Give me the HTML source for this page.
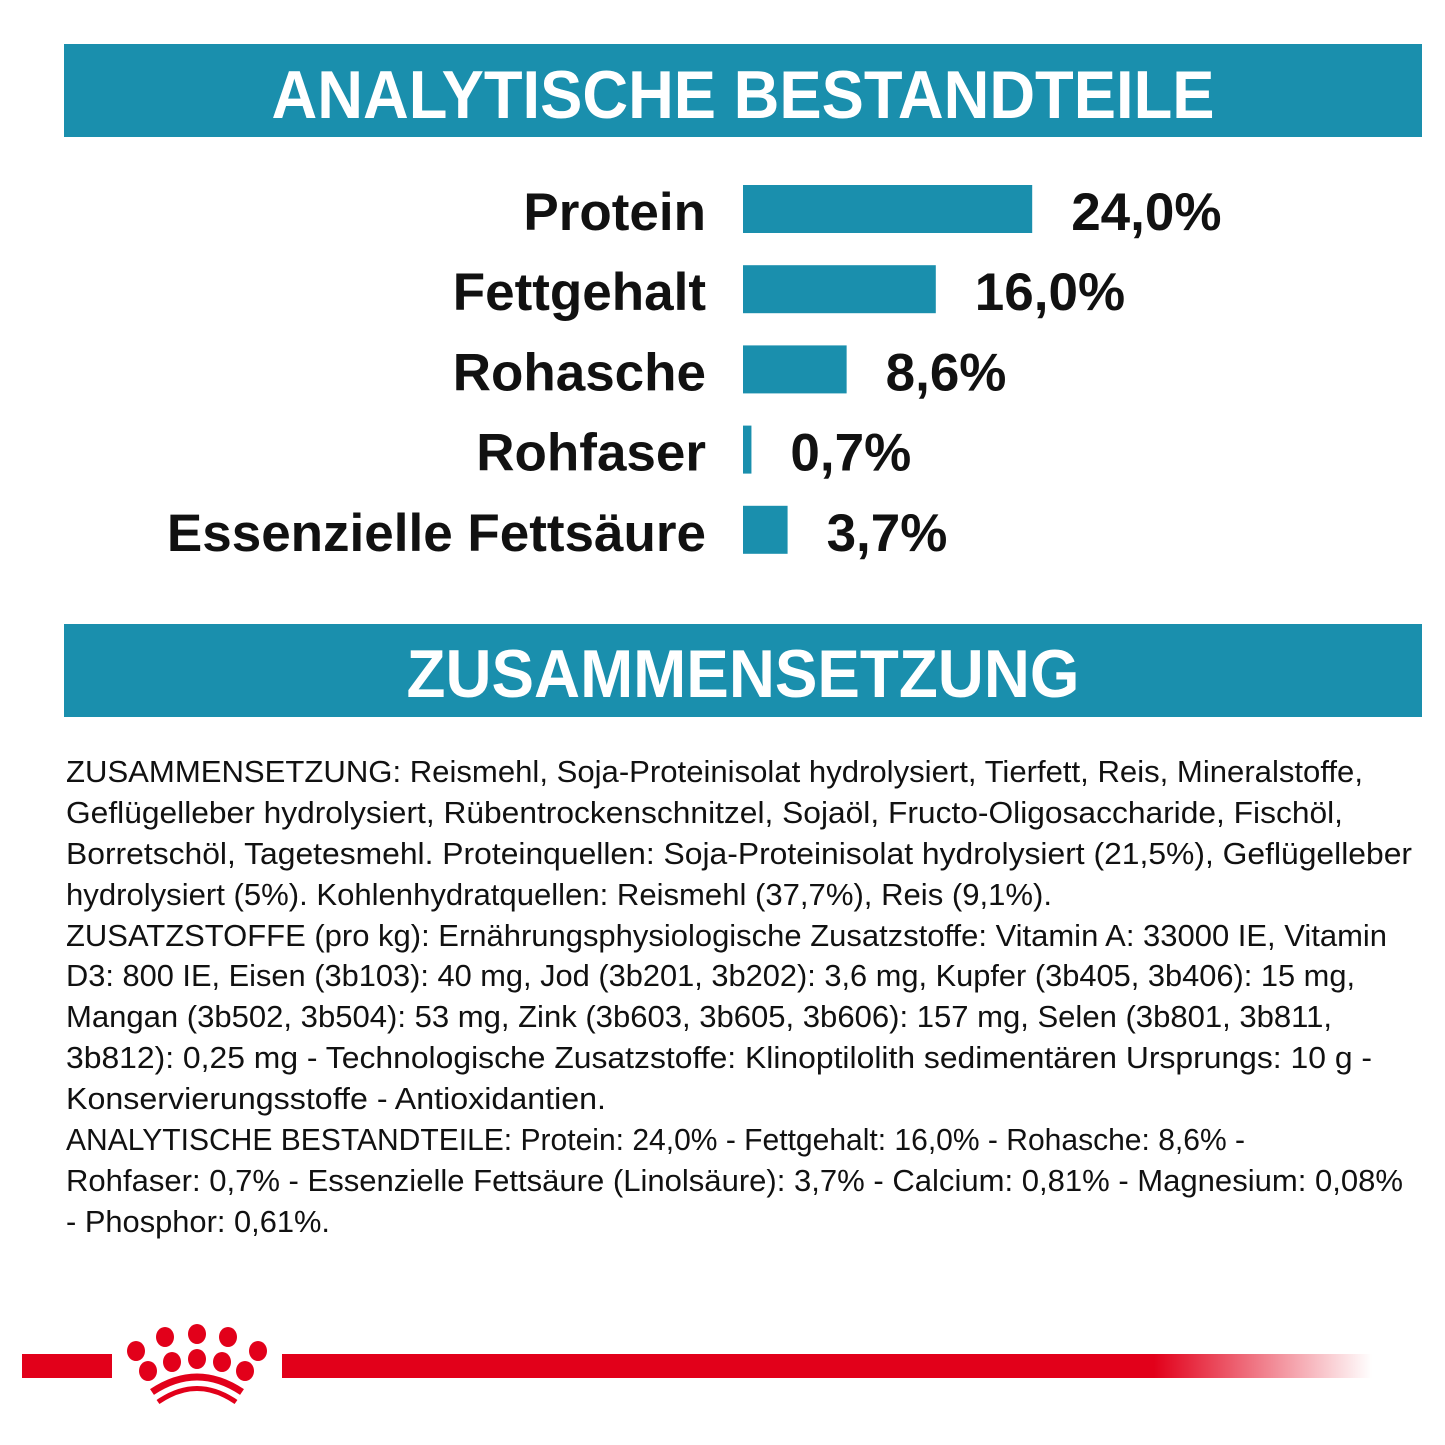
<!DOCTYPE html>
<html><head><meta charset="utf-8"><style>
html,body{margin:0;padding:0;background:#fff;}
svg{display:block;}
</style></head><body>
<svg id="s" width="1445" height="1445" viewBox="0 0 1445 1445" xmlns="http://www.w3.org/2000/svg">
<defs>
<linearGradient id="fade" x1="0" x2="1" y1="0" y2="0">
<stop offset="0" stop-color="#e2001a" stop-opacity="1"/>
<stop offset="0.8" stop-color="#e2001a" stop-opacity="1"/>
<stop offset="1" stop-color="#e2001a" stop-opacity="0"/>
</linearGradient>
</defs>
<rect x="0" y="0" width="1445" height="1445" fill="#fff"/>
<g>
<rect x="64" y="44" width="1358" height="93" fill="#1a8fad"/>
<text x="743" y="118" text-anchor="middle" font-family="Liberation Sans, sans-serif" font-weight="bold" font-size="68" fill="#fff" textLength="943" lengthAdjust="spacingAndGlyphs">ANALYTISCHE BESTANDTEILE</text>
</g>
<g id="chart"></g>
<g>
<rect x="64" y="624" width="1358" height="93" fill="#1a8fad"/>
<text x="743" y="697" text-anchor="middle" font-family="Liberation Sans, sans-serif" font-weight="bold" font-size="68" fill="#fff" textLength="673" lengthAdjust="spacingAndGlyphs">ZUSAMMENSETZUNG</text>
</g>
<g font-family="Liberation Sans, sans-serif" font-size="31" fill="#111">
<text x="66" y="782" textLength="1297" lengthAdjust="spacingAndGlyphs">ZUSAMMENSETZUNG: Reismehl, Soja-Proteinisolat hydrolysiert, Tierfett, Reis, Mineralstoffe,</text>
<text x="66" y="823" textLength="1277" lengthAdjust="spacingAndGlyphs">Geflügelleber hydrolysiert, Rübentrockenschnitzel, Sojaöl, Fructo-Oligosaccharide, Fischöl,</text>
<text x="66" y="864" textLength="1346" lengthAdjust="spacingAndGlyphs">Borretschöl, Tagetesmehl. Proteinquellen: Soja-Proteinisolat hydrolysiert (21,5%), Geflügelleber</text>
<text x="66" y="905" textLength="986" lengthAdjust="spacingAndGlyphs">hydrolysiert (5%). Kohlenhydratquellen: Reismehl (37,7%), Reis (9,1%).</text>
<text x="66" y="946" textLength="1321" lengthAdjust="spacingAndGlyphs">ZUSATZSTOFFE (pro kg): Ernährungsphysiologische Zusatzstoffe: Vitamin A: 33000 IE, Vitamin</text>
<text x="66" y="986" textLength="1289" lengthAdjust="spacingAndGlyphs">D3: 800 IE, Eisen (3b103): 40 mg, Jod (3b201, 3b202): 3,6 mg, Kupfer (3b405, 3b406): 15 mg,</text>
<text x="66" y="1027" textLength="1266" lengthAdjust="spacingAndGlyphs">Mangan (3b502, 3b504): 53 mg, Zink (3b603, 3b605, 3b606): 157 mg, Selen (3b801, 3b811,</text>
<text x="66" y="1068" textLength="1306" lengthAdjust="spacingAndGlyphs">3b812): 0,25 mg - Technologische Zusatzstoffe: Klinoptilolith sedimentären Ursprungs: 10 g -</text>
<text x="66" y="1109" textLength="540" lengthAdjust="spacingAndGlyphs">Konservierungsstoffe - Antioxidantien.</text>
<text x="66" y="1150" textLength="1179" lengthAdjust="spacingAndGlyphs">ANALYTISCHE BESTANDTEILE: Protein: 24,0% - Fettgehalt: 16,0% - Rohasche: 8,6% -</text>
<text x="66" y="1191" textLength="1337" lengthAdjust="spacingAndGlyphs">Rohfaser: 0,7% - Essenzielle Fettsäure (Linolsäure): 3,7% - Calcium: 0,81% - Magnesium: 0,08%</text>
<text x="66" y="1232" textLength="264" lengthAdjust="spacingAndGlyphs">- Phosphor: 0,61%.</text>
</g>
<g>
<rect x="22" y="1354" width="90" height="24" fill="#e2001a"/>
<rect x="282" y="1354" width="1090" height="24" fill="url(#fade)"/>
<g fill="#e2001a">
<ellipse cx="165" cy="1337" rx="9" ry="10"/><ellipse cx="197" cy="1334" rx="9" ry="10"/><ellipse cx="228" cy="1337" rx="9" ry="10"/>
<ellipse cx="136" cy="1351" rx="9" ry="10"/><ellipse cx="258" cy="1351" rx="9" ry="10"/>
<ellipse cx="172" cy="1362" rx="9" ry="10"/><ellipse cx="197" cy="1359" rx="9" ry="10"/><ellipse cx="222" cy="1362" rx="9" ry="10"/>
<ellipse cx="148" cy="1371" rx="9" ry="10"/><ellipse cx="245" cy="1371" rx="9" ry="10"/>
<path d="M152 1392 Q197 1362 242 1392" stroke="#e2001a" stroke-width="7" fill="none"/>
<path d="M158 1402 Q197 1375 236 1402" stroke="#e2001a" stroke-width="5" fill="none"/>
</g>
</g>
</svg>
<script>
const categories = ["Protein","Fettgehalt","Rohasche","Rohfaser","Essenzielle Fettsäure"];
const values = [24.0,16.0,8.6,0.7,3.7];
const valueLabels = ["24,0%","16,0%","8,6%","0,7%","3,7%"];

const NS = "http://www.w3.org/2000/svg";
const chart = document.getElementById("chart");
const x0 = 743, pxPerUnit = 12.05, rowTop = 185, rowPitch = 80.2, barH = 48;
function xScale(v){ return x0 + v * pxPerUnit; }
function yScale(i){ return rowTop + i * rowPitch; }
categories.forEach(function(c, i){
  const y = yScale(i);
  const lab = document.createElementNS(NS, "text");
  lab.setAttribute("x", 706);
  lab.setAttribute("y", y + 45);
  lab.setAttribute("text-anchor", "end");
  lab.setAttribute("font-family", "Liberation Sans, sans-serif");
  lab.setAttribute("font-weight", "bold");
  lab.setAttribute("font-size", "53");
  lab.setAttribute("fill", "#111");
  lab.textContent = c;
  
  
  chart.appendChild(lab);
  const bar = document.createElementNS(NS, "rect");
  bar.setAttribute("x", x0);
  bar.setAttribute("y", y);
  bar.setAttribute("width", Math.max(1, xScale(values[i]) - x0));
  bar.setAttribute("height", barH);
  bar.setAttribute("fill", "#1a8fad");
  
  
  chart.appendChild(bar);
  const vl = document.createElementNS(NS, "text");
  vl.setAttribute("x", xScale(values[i]) + 39);
  vl.setAttribute("y", y + 45);
  vl.setAttribute("font-family", "Liberation Sans, sans-serif");
  vl.setAttribute("font-weight", "bold");
  vl.setAttribute("font-size", "53");
  vl.setAttribute("fill", "#111");
  vl.textContent = valueLabels[i];
  
  
  chart.appendChild(vl);
});
</script>
</body></html>
